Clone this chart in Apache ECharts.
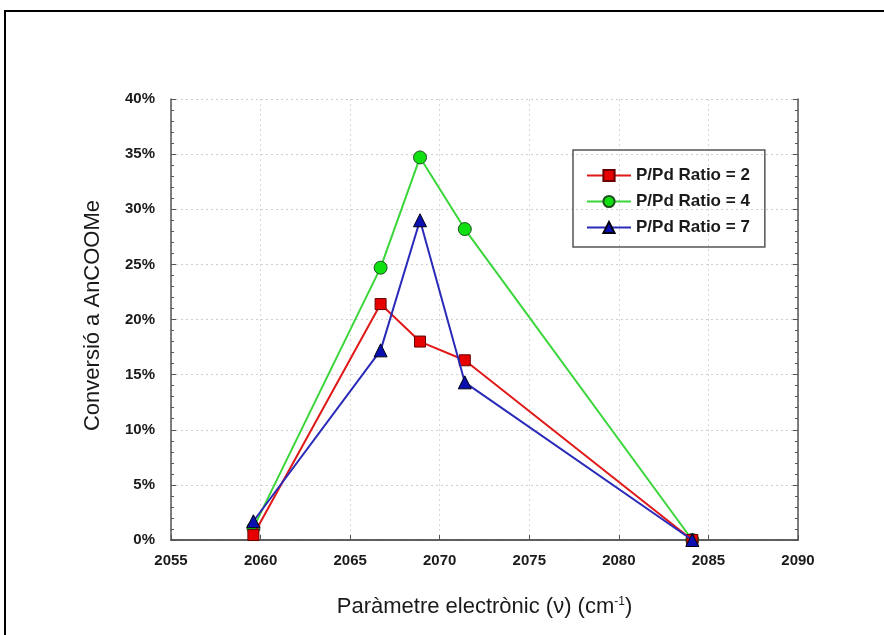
<!DOCTYPE html>
<html>
<head>
<meta charset="utf-8">
<script src="https://cdn.jsdelivr.net/npm/echarts@6/dist/echarts.min.js"></script>
<style>
  html, body { margin: 0; padding: 0; background: #fff; }
  #chart { width: 884px; height: 635px; }
</style>
</head>
<body>
<div id="chart"></div>
<script>
// wavenumbers (cm-1) shared by all three series
var nu = [2059.6, 2066.7, 2068.9, 2071.4, 2084.1];
var ratio2 = [0.45, 21.4, 18.0, 16.3, 0];
var ratio4 = [1.1, 24.7, 34.7, 28.2, 0];
var ratio7 = [1.7, 17.2, 29.0, 14.3, 0];
var names = ['P/Pd Ratio = 2', 'P/Pd Ratio = 4', 'P/Pd Ratio = 7'];

function pts(ys) {
    return nu.map(function (x, i) { return [x, ys[i]]; });
}

var font = 'Liberation Sans, Arial, sans-serif';
var axisCol = '#555';
var txtCol = '#1a1a1a';

var yBase = {
    type: 'value',
    min: 0,
    max: 40,
    interval: 5
};

option = {
    backgroundColor: '#fff',
    animation: false,
    grid: { left: 171, right: 86, top: 99, bottom: 95 },
    graphic: [
        {
            type: 'rect',
            shape: { x: 5, y: 11, width: 900, height: 700 },
            style: { fill: 'none', stroke: '#000', lineWidth: 2 }
        }
    ],
    legend: {
        orient: 'vertical',
        left: 573,
        top: 150,
        padding: [17, 15, 11, 13],
        itemWidth: 44,
        itemHeight: 14,
        itemGap: 9,
        borderColor: '#555',
        borderWidth: 1.5,
        textStyle: { fontFamily: font, fontSize: 17, fontWeight: 'bold', color: txtCol, lineHeight: 17 },
        data: names
    },
    xAxis: [
        {
            type: 'value',
            min: 2055,
            max: 2090,
            interval: 5,
            position: 'bottom',
            name: 'Paràmetre electrònic (ν) (cm{sup|-1})',
            nameLocation: 'middle',
            nameGap: 56,
            nameTextStyle: {
                fontFamily: font, fontSize: 22, color: txtCol,
                rich: { sup: { fontFamily: font, fontSize: 12, color: txtCol, verticalAlign: 'top', padding: [0, 0, 10, 0] } }
            },
            axisLine: { lineStyle: { color: axisCol, width: 1.5 } },
            axisTick: { inside: true, length: 5, lineStyle: { color: axisCol } },
            axisLabel: {
                fontFamily: font, fontSize: 15, fontWeight: 'bold', color: txtCol, margin: 13,
                formatter: function (v) { return String(v); }
            },
            splitLine: { show: true, lineStyle: { color: '#d8d8d8', type: [2, 3] } }
        },
        {
            type: 'value',
            min: 2055,
            max: 2090,
            interval: 5,
            position: 'top',
            axisLine: { lineStyle: { color: axisCol, width: 1.5 } },
            axisTick: { show: false },
            axisLabel: { show: false },
            splitLine: { show: false }
        }
    ],
    yAxis: [
        Object.assign({}, yBase, {
            position: 'left',
            name: 'Conversió a AnCOOMe',
            nameLocation: 'middle',
            nameGap: 67,
            nameTextStyle: { fontFamily: font, fontSize: 22, color: txtCol, padding: [0, 0, 0, 8] },
            axisLine: { lineStyle: { color: axisCol, width: 1.5 } },
            axisTick: { inside: true, length: 5, lineStyle: { color: axisCol } },
            minorTick: { show: true, splitNumber: 5, length: 3, lineStyle: { color: axisCol } },
            axisLabel: { fontFamily: font, fontSize: 15, fontWeight: 'bold', color: txtCol, margin: 16, formatter: '{value}%' },
            splitLine: { show: true, lineStyle: { color: '#cfcfcf', type: [2, 3] } }
        }),
        Object.assign({}, yBase, {
            position: 'right',
            axisLine: { lineStyle: { color: axisCol, width: 1.5 } },
            axisTick: { inside: true, length: 5, lineStyle: { color: axisCol } },
            minorTick: { show: true, splitNumber: 5, length: 3, lineStyle: { color: axisCol } },
            axisLabel: { show: false },
            splitLine: { show: false }
        })
    ],
    series: [
        {
            name: names[0],
            type: 'line',
            symbol: 'rect',
            symbolSize: 11,
            data: pts(ratio2),
            lineStyle: { color: '#e01818', width: 2 },
            itemStyle: { color: '#e60000', borderColor: '#600', borderWidth: 1 },
            z: 3
        },
        {
            name: names[1],
            type: 'line',
            symbol: 'circle',
            symbolSize: 13,
            data: pts(ratio4),
            lineStyle: { color: '#3ad63a', width: 2 },
            itemStyle: { color: '#10e010', borderColor: '#205020', borderWidth: 1 },
            z: 2
        },
        {
            name: names[2],
            type: 'line',
            symbol: 'triangle',
            symbolSize: 13,
            data: pts(ratio7),
            lineStyle: { color: '#2a2ab8', width: 2 },
            itemStyle: { color: '#0a10b0', borderColor: '#001', borderWidth: 1 },
            z: 4
        }
    ]
};

var chart = echarts.init(document.getElementById('chart'));
chart.setOption(option);
</script>
</body>
</html>
